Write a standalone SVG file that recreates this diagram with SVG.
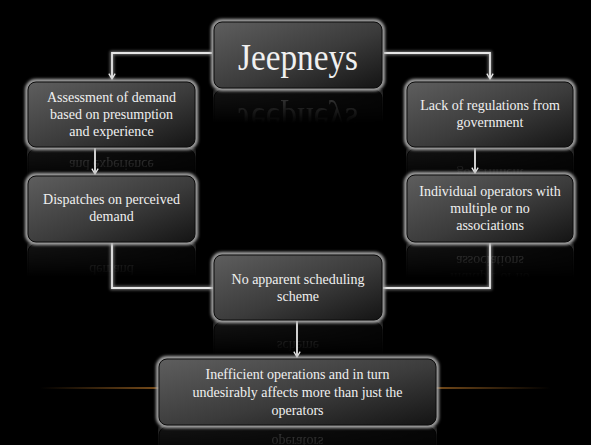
<svg xmlns="http://www.w3.org/2000/svg" xmlns:xlink="http://www.w3.org/1999/xlink" width="591" height="445" viewBox="0 0 591 445">
<style>
.t{font-family:'Liberation Serif','DejaVu Serif',serif;font-size:14px;fill:#f0f0f0;text-anchor:middle}
.big{font-size:38px}
.halo{fill:none;stroke:#acacac;stroke-width:4;filter:url(#glow)}
.box{fill:url(#boxFill);stroke:#0c0c0c;stroke-width:1}
.cglow{fill:none;stroke:#9a9a9a;stroke-width:4;filter:url(#glow);opacity:0.7}
.c{fill:none;stroke:#e6e6e6;stroke-width:1.8}
</style>
<defs>
<linearGradient id="boxFill" x1="0" y1="0" x2="1" y2="1">
<stop offset="0" stop-color="#5e5e5e"/>
<stop offset="0.55" stop-color="#3b3b3b"/>
<stop offset="1" stop-color="#141414"/>
</linearGradient>
<filter id="glow" x="-20%" y="-40%" width="140%" height="180%"><feGaussianBlur stdDeviation="1.6"/></filter>
<linearGradient id="fadeGrad" x1="0" y1="0" x2="0" y2="1">
<stop offset="0" stop-color="#fff" stop-opacity="0.3"/>
<stop offset="0.5" stop-color="#fff" stop-opacity="0"/>
</linearGradient>
<mask id="fade" maskContentUnits="objectBoundingBox"><rect width="1" height="1" fill="url(#fadeGrad)"/></mask>
<linearGradient id="orange" x1="0" y1="0" x2="1" y2="0">
<stop offset="0" stop-color="#c07a2a" stop-opacity="0"/>
<stop offset="0.3" stop-color="#c07a2a" stop-opacity="0.8"/>
<stop offset="0.7" stop-color="#c07a2a" stop-opacity="0.8"/>
<stop offset="1" stop-color="#c07a2a" stop-opacity="0"/>
</linearGradient>
<marker id="arr" viewBox="0 0 10 10" refX="9" refY="5" markerWidth="9" markerHeight="9" orient="auto" markerUnits="userSpaceOnUse">
<path d="M3,1.5 L9,5 L3,8.5" fill="none" stroke="#e6e6e6" stroke-width="1.5"/>
</marker>
</defs>
<rect width="591" height="445" fill="#000"/>
<rect x="40" y="387" width="510" height="2" fill="url(#orange)"/>

<g id="reflections">
<g mask="url(#fade)"><use xlink:href="#n-jeep" transform="matrix(1,0,0,-1,0,178)"/></g>
<g mask="url(#fade)"><use xlink:href="#n-assess" transform="matrix(1,0,0,-1,0,296)"/></g>
<g mask="url(#fade)"><use xlink:href="#n-dispatch" transform="matrix(1,0,0,-1,0,486)"/></g>
<g mask="url(#fade)"><use xlink:href="#n-lack" transform="matrix(1,0,0,-1,0,296)"/></g>
<g mask="url(#fade)"><use xlink:href="#n-indiv" transform="matrix(1,0,0,-1,0,486)"/></g>
<g mask="url(#fade)"><use xlink:href="#n-nosched" transform="matrix(1,0,0,-1,0,642)"/></g>
<g mask="url(#fade)"><use xlink:href="#n-ineff" transform="matrix(1,0,0,-1,0,852)"/></g>
</g>

<g id="connectors">
<path class="cglow" d="M212,53 H112 V79"/>
<path class="c" d="M212,53 H112 V79" marker-end="url(#arr)"/>
<path class="cglow" d="M384,53 H490 V79"/>
<path class="c" d="M384,53 H490 V79" marker-end="url(#arr)"/>
<path class="cglow" d="M95,148 V174"/>
<path class="c" d="M95,148 V174" marker-end="url(#arr)"/>
<path class="cglow" d="M475,148 V173"/>
<path class="c" d="M475,148 V173" marker-end="url(#arr)"/>
<path class="cglow" d="M112,243 V288 H213"/>
<path class="c" d="M112,243 V288 H213"/>
<path class="cglow" d="M490,243 V288 H383"/>
<path class="c" d="M490,243 V288 H383"/>
<path class="cglow" d="M297,321 V357"/>
<path class="c" d="M297,321 V357" marker-end="url(#arr)"/>
</g>

<g id="n-jeep">
<rect class="halo" x="213" y="21" width="170" height="68" rx="9"/>
<rect class="box" x="214" y="22" width="168" height="66" rx="8"/>
<text class="t big" x="298" y="70" textLength="120" lengthAdjust="spacingAndGlyphs">Jeepneys</text>
</g>
<g id="n-assess">
<rect class="halo" x="27" y="81" width="169" height="67" rx="9"/>
<rect class="box" x="28" y="82" width="167" height="65" rx="8"/>
<text class="t" x="111.5" y="102">Assessment of demand</text>
<text class="t" x="111.5" y="119">based on presumption</text>
<text class="t" x="111.5" y="136">and experience</text>
</g>
<g id="n-dispatch">
<rect class="halo" x="27" y="175" width="169" height="68" rx="9"/>
<rect class="box" x="28" y="176" width="167" height="66" rx="8"/>
<text class="t" x="111.5" y="204">Dispatches on perceived</text>
<text class="t" x="111.5" y="221">demand</text>
</g>
<g id="n-lack">
<rect class="halo" x="406" y="81" width="168" height="67" rx="9"/>
<rect class="box" x="407" y="82" width="166" height="65" rx="8"/>
<text class="t" x="490" y="110">Lack of regulations from</text>
<text class="t" x="490" y="127">government</text>
</g>
<g id="n-indiv">
<rect class="halo" x="406" y="174" width="168" height="69" rx="9"/>
<rect class="box" x="407" y="175" width="166" height="67" rx="8"/>
<text class="t" x="490" y="196">Individual operators with</text>
<text class="t" x="490" y="213">multiple or no</text>
<text class="t" x="490" y="230">associations</text>
</g>
<g id="n-nosched">
<rect class="halo" x="213" y="254" width="170" height="67" rx="9"/>
<rect class="box" x="214" y="255" width="168" height="65" rx="8"/>
<text class="t" x="298" y="284">No apparent scheduling</text>
<text class="t" x="298" y="301">scheme</text>
</g>
<g id="n-ineff">
<rect class="halo" x="158" y="358" width="279" height="68" rx="9"/>
<rect class="box" x="159" y="359" width="277" height="66" rx="8"/>
<text class="t" x="297.5" y="379">Inefficient operations and in turn</text>
<text class="t" x="297.5" y="397">undesirably affects more than just the</text>
<text class="t" x="297.5" y="415">operators</text>
</g>
</svg>
